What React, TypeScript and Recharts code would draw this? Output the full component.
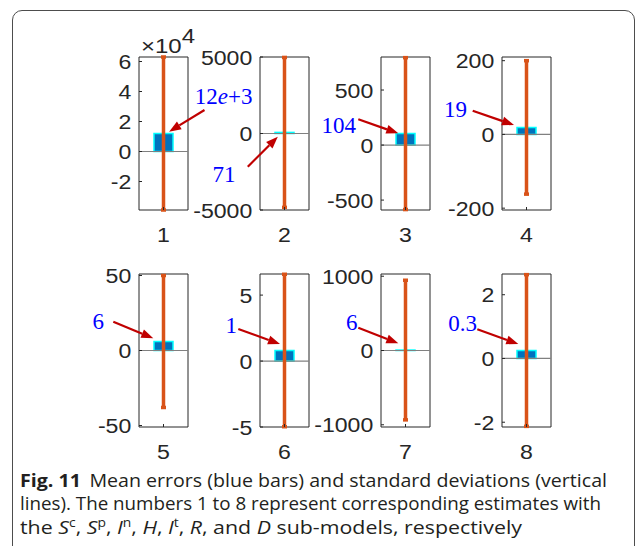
import React from "react";
import {
  Bar,
  ComposedChart,
  ErrorBar,
  ReferenceArea,
  ReferenceDot,
  ReferenceLine,
  XAxis,
  YAxis,
} from "recharts";

// one small panel per sub-model estimate
const panelNames = ["1", "2", "3", "4", "5", "6", "7", "8"];
const meanErrors = [12000, 71, 104, 19, 6, 0.8, 6, 0.25];
const stdDevs = [51000, 4900, 690, 181, 44, 5.78, 940, 2.38];
const meanLabels = ["12e+3", "71", "104", "19", "6", "1", "6", "0.3"];
const yDomains: [number, number][] = [
  [-39000, 63000],
  [-5000, 5000],
  [-590, 800],
  [-205, 210],
  [-51, 51],
  [-5, 6.6],
  [-1030, 1030],
  [-2.15, 2.65],
];
const yTicks = [
  [-20000, 0, 20000, 40000, 60000],
  [-5000, 0, 5000],
  [-500, 0, 500],
  [-200, 0, 200],
  [-50, 0, 50],
  [-5, 0, 5],
  [-1000, 0, 1000],
  [-2, 0, 2],
];
const yDivisors = [1e4, 1, 1, 1, 1, 1, 1, 1];

// layout of the axes boxes
const boxLefts = [139, 260, 381, 502];
const boxTops = [57, 274];
const BOX_W = 49;
const BOX_H = 153;
const AXIS_W = 60;
const RIGHT_W = 10;
const TOP_PAD = 10;
const X_AXIS_H = 40;

const INK = "#262626";
const TICK_FONT = "'Liberation Sans', Arial, sans-serif";
const STRETCH = 1.1;

// arrow/label offsets measured from the top-centre of each bar
const annots = [
  { tip: [5.6, -1.8], tail: [41, -23.5], text: [31.3, -29.5], anchor: "start" },
  { tip: [-6.7, 4.3], tail: [-36.7, 34.3], text: [-49, 49.3], anchor: "end" },
  { tip: [-7.2, -0.3], tail: [-47.2, -14.3], text: [-49.5, -0.9], anchor: "end" },
  { tip: [-12.5, -2.4], tail: [-53.8, -16.7], text: [-59.5, -10.1], anchor: "end" },
  { tip: [-10.2, -3.2], tail: [-50.2, -19.8], text: [-59.5, -13], anchor: "end" },
  { tip: [-4.5, -6.5], tail: [-46.2, -21.5], text: [-47.5, -17.8], anchor: "end" },
  { tip: [-7.2, -6.7], tail: [-47.2, -22.3], text: [-48, -20], anchor: "end" },
  { tip: [-8.2, -6.5], tail: [-49.2, -21.2], text: [-49.5, -19.5], anchor: "end" },
];

function YTick(props: any) {
  const { x, y, payload, div } = props;
  return (
    <text
      transform={`translate(${x},${y}) scale(${STRETCH},1)`}
      textAnchor="end"
      dy="0.36em"
      fontSize={21}
      fontFamily={TICK_FONT}
      fill={INK}
    >
      {String(payload.value / div)}
    </text>
  );
}

function XTick(props: any) {
  const { x, y, payload } = props;
  return (
    <text
      transform={`translate(${x},${y}) scale(${STRETCH},1)`}
      textAnchor="middle"
      dy="0.36em"
      fontSize={21}
      fontFamily={TICK_FONT}
      fill={INK}
    >
      {payload.value}
    </text>
  );
}

function Arrow({ x1, y1, x2, y2 }: { x1: number; y1: number; x2: number; y2: number }) {
  const ang = Math.atan2(y2 - y1, x2 - x1);
  const L = 12;
  const W = 4.5;
  const bx = x2 - L * Math.cos(ang);
  const by = y2 - L * Math.sin(ang);
  const px = -Math.sin(ang) * W;
  const py = Math.cos(ang) * W;
  return (
    <g>
      <line x1={x1} y1={y1} x2={bx} y2={by} stroke="#C00000" strokeWidth={2.2} />
      <polygon
        points={`${x2},${y2} ${bx + px},${by + py} ${bx - px},${by - py}`}
        fill="#C00000"
      />
    </g>
  );
}

function Annotation({ cx, cy, i }: { cx: number; cy: number; i: number }) {
  const a = annots[i];
  const parts = meanLabels[i].split("e");
  return (
    <g>
      <Arrow x1={cx + a.tail[0]} y1={cy + a.tail[1]} x2={cx + a.tip[0]} y2={cy + a.tip[1]} />
      <text
        x={cx + a.text[0]}
        y={cy + a.text[1]}
        textAnchor={a.anchor as any}
        fontSize={23}
        fontFamily="'Liberation Serif', 'Times New Roman', serif"
        fill="#0000FF"
      >
        {parts[0]}
        {parts.length > 1 && <tspan fontStyle="italic">e</tspan>}
        {parts.length > 1 && parts[1]}
      </text>
    </g>
  );
}

function Panel({ i }: { i: number }) {
  const data = [{ name: panelNames[i], mean: meanErrors[i], std: stdDevs[i] }];
  const dom = yDomains[i];
  return (
    <div
      style={{
        position: "absolute",
        left: boxLefts[i % 4] - AXIS_W,
        top: boxTops[Math.floor(i / 4)] - TOP_PAD,
      }}
    >
      <ComposedChart
        width={AXIS_W + BOX_W + RIGHT_W}
        height={TOP_PAD + BOX_H + X_AXIS_H}
        data={data}
        margin={{ top: TOP_PAD, right: 0, bottom: 0, left: 0 }}
      >
        <XAxis
          dataKey="name"
          type="category"
          height={X_AXIS_H}
          axisLine={false}
          stroke={INK}
          tickSize={-3}
          tickMargin={27}
          tick={<XTick />}
          interval={0}
        />
        <YAxis
          type="number"
          domain={dom}
          ticks={yTicks[i]}
          width={AXIS_W}
          axisLine={false}
          stroke={INK}
          tickSize={-3}
          tickMargin={10.7}
          tick={<YTick div={yDivisors[i]} />}
          interval={0}
        />
        <YAxis
          yAxisId="r"
          orientation="right"
          type="number"
          domain={dom}
          ticks={yTicks[i]}
          width={RIGHT_W}
          axisLine={false}
          stroke={INK}
          tickSize={-3}
          tick={false}
          interval={0}
        />
        <ReferenceLine y={0} stroke="#808080" strokeWidth={1.2} />
        <ReferenceArea
          y1={dom[0]}
          y2={dom[1]}
          fill="none"
          fillOpacity={0}
          stroke={INK}
          strokeWidth={1}
          strokeOpacity={1}
          ifOverflow="visible"
        />
        <Bar
          dataKey="mean"
          barSize={19}
          fill="#0072BD"
          stroke="#00FFFF"
          strokeWidth={1.5}
          isAnimationActive={false}
        >
          <ErrorBar
            dataKey="std"
            direction="y"
            width={2.5}
            stroke="#D95319"
            strokeWidth={3.5}
            isAnimationActive={false}
          />
        </Bar>
        <ReferenceDot
          x={panelNames[i]}
          y={meanErrors[i]}
          r={0}
          ifOverflow="visible"
          shape={(p: any) => <Annotation cx={p.cx} cy={p.cy} i={i} />}
        />
      </ComposedChart>
    </div>
  );
}

export default function App() {
  const cap = { fontFamily: "'Open Sans', 'Noto Sans', sans-serif", fontSize: 18.5, fill: "#231F20" };
  return (
    <div
      style={{
        position: "absolute",
        left: 0,
        top: 0,
        width: 635,
        height: 546,
        overflow: "hidden",
        background: "#fff",
      }}
    >
      <style>{`.recharts-surface{overflow:visible}`}</style>
      <div
        style={{
          position: "absolute",
          left: 12,
          top: 9.5,
          width: 623,
          height: 620,
          border: "1.5px solid #4d4d4d",
          borderRadius: 10,
          boxSizing: "border-box",
        }}
      />
      {panelNames.map((n, i) => (
        <Panel key={n} i={i} />
      ))}
      <svg
        width={635}
        height={546}
        style={{ position: "absolute", left: 0, top: 0, pointerEvents: "none" }}
      >
        <text
          transform={`translate(141,52.5) scale(1.2,1)`}
          fontSize={20}
          fontFamily={TICK_FONT}
          fill={INK}
        >
          ×10<tspan dy={-10}>4</tspan>
        </text>
        <text x={20} y={486.5} textLength={587} lengthAdjust="spacingAndGlyphs" {...cap}>
          <tspan fontWeight={700}>Fig. 11</tspan>
          <tspan dx={8}>Mean errors (blue bars) and standard deviations (vertical</tspan>
        </text>
        <text x={20} y={510} textLength={581} lengthAdjust="spacingAndGlyphs" {...cap}>
          lines). The numbers 1 to 8 represent corresponding estimates with
        </text>
        <text x={20} y={533.5} textLength={502} lengthAdjust="spacingAndGlyphs" {...cap}>
          {"the "}
          <tspan fontStyle="italic">S</tspan>
          <tspan fontSize={12} dy={-7}>c</tspan>
          <tspan dy={7}>{", "}</tspan>
          <tspan fontStyle="italic">S</tspan>
          <tspan fontSize={12} dy={-7}>p</tspan>
          <tspan dy={7}>{", "}</tspan>
          <tspan fontStyle="italic">I</tspan>
          <tspan fontSize={12} dy={-7}>n</tspan>
          <tspan dy={7}>{", "}</tspan>
          <tspan fontStyle="italic">H</tspan>
          <tspan>{", "}</tspan>
          <tspan fontStyle="italic">I</tspan>
          <tspan fontSize={12} dy={-7}>t</tspan>
          <tspan dy={7}>{", "}</tspan>
          <tspan fontStyle="italic">R</tspan>
          <tspan>{", and "}</tspan>
          <tspan fontStyle="italic">D</tspan>
          <tspan>{" sub-models, respectively"}</tspan>
        </text>
      </svg>
    </div>
  );
}
